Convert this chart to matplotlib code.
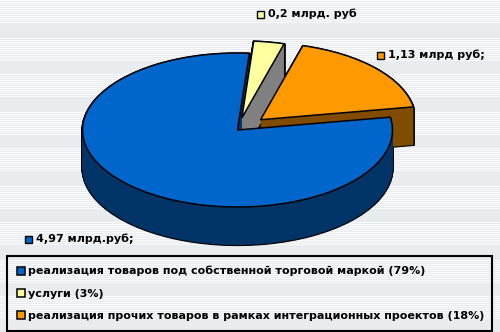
import numpy as np
import matplotlib
matplotlib.use("Agg")
import matplotlib.pyplot as plt
from matplotlib.patches import Rectangle

# data
segments = ["реализация товаров под собственной торговой маркой (79%)",
            "услуги (3%)",
            "реализация прочих товаров в рамках интеграционных проектов (18%)"]
values = [4.97, 0.2, 1.13]
value_labels = ["4,97 млрд.руб;", "0,2 млрд. руб", "1,13 млрд руб;"]

top_colors = ["#0066cc", "#ffffa0", "#ff9900"]
side_colors = ["#003366", "#808080", "#7f4c00"]
explode = [0, 0.16, 0.2]

plt.rcParams["font.family"] = ["DejaVu Sans"]

W, H = 500, 332
fig = plt.figure(figsize=(W / 100, H / 100), dpi=100)

# striped background
rows = np.arange(H)
stripe = ((rows % 37) < 24) & (rows % 2 == 0)
grey = np.array([233, 236, 239]) / 255
white = np.array([250, 250, 250]) / 255
bg = np.where(stripe[:, None], white, grey)[:, None, :].repeat(W, axis=1)
bg_ax = fig.add_axes([0, 0, 1, 1])
bg_ax.imshow(bg, aspect="auto", interpolation="nearest")
bg_ax.axis("off")

# pie axes: one x unit = 155 px, one y unit = 77 px (tilted look)
ax = fig.add_axes([0, 0, 1, 1])
cx, cy, rx, ry = 237.5, 130, 155, 77
depth = 38 / ry
zs = np.linspace(depth, 0, 70)[:-1]
pie_kw = dict(explode=explode, startangle=9.6, counterclock=False)

# outline of the side walls
for z in zs:
    ax.pie(values, colors=["black"] * 3, center=(0, -z),
           wedgeprops=dict(edgecolor="black", linewidth=1.6), **pie_kw)
# side walls
for z in zs:
    ax.pie(values, colors=side_colors, center=(0, -z),
           wedgeprops=dict(linewidth=0), **pie_kw)
# top face
wedges, _ = ax.pie(values, colors=top_colors, center=(0, 0),
                   wedgeprops=dict(edgecolor="black", linewidth=1.1), **pie_kw)

ax.set_aspect("auto")
ax.set_xlim(-cx / rx, (W - cx) / rx)
ax.set_ylim(-(H - cy) / ry, cy / ry)
ax.axis("off")


def value_label(x, y, text, color):
    # small square marker + bold text, positions in pixels from top-left
    fig.add_artist(Rectangle((x / W, 1 - (y + 4) / H), 7 / W, 7 / H,
                             transform=fig.transFigure, facecolor=color,
                             edgecolor="black", linewidth=1))
    fig.text((x + 11) / W, 1 - y / H, text, fontsize=8, fontweight="bold",
             va="center", ha="left")


value_label(25, 239, value_labels[0], top_colors[0])
value_label(257, 14, value_labels[1], top_colors[1])
value_label(377, 55, value_labels[2], top_colors[2])

leg = fig.legend(wedges, segments, loc="upper left",
                 bbox_to_anchor=(7 / W, 1 - 329 / H, 485 / W, 73 / H),
                 mode="expand", prop=dict(size=8, weight="bold"),
                 handlelength=0.7, handleheight=0.7, handletextpad=0.3,
                 labelspacing=1.1, borderpad=0.9, borderaxespad=0,
                 fancybox=False, framealpha=1)
leg.get_frame().set_edgecolor("black")
leg.get_frame().set_linewidth(1.5)
leg.get_frame().set_facecolor("none")

fig.savefig("out.png", dpi=100)
